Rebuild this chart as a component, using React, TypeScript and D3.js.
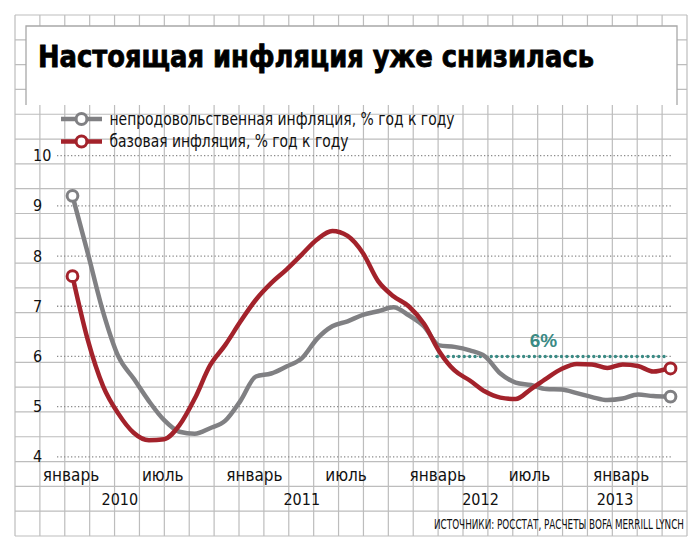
import * as d3 from "d3"

// месяцы с января 2010 (0) по апрель 2013 (39)
const monthIdx = d3.range(0, 40)

const nonFood = [
    9.2, 8.06, 6.89, 6.0, 5.56, 5.11, 4.73, 4.5, 4.46, 4.57, 4.72, 5.12,
    5.6, 5.66, 5.8, 5.96, 6.35, 6.6, 6.7, 6.83, 6.9, 6.98, 6.82, 6.6,
    6.22, 6.19, 6.12, 6.0, 5.66, 5.48, 5.43, 5.35, 5.34, 5.27, 5.19, 5.13,
    5.16, 5.24, 5.21, 5.2,
]

const core = [
    7.6, 6.33, 5.41, 4.86, 4.48, 4.33, 4.35, 4.63, 5.16, 5.82, 6.23, 6.7,
    7.13, 7.46, 7.73, 8.03, 8.33, 8.5, 8.4, 8.06, 7.5, 7.2, 7.0, 6.65,
    6.1, 5.72, 5.52, 5.3, 5.18, 5.15, 5.35, 5.56, 5.75, 5.85, 5.84, 5.77,
    5.84, 5.81, 5.7, 5.76,
]

const yTicks = [4, 5, 6, 7, 8, 9, 10]
const monthTicks = [
    { m: 0, label: "январь" },
    { m: 6, label: "июль" },
    { m: 12, label: "январь" },
    { m: 18, label: "июль" },
    { m: 24, label: "январь" },
    { m: 30, label: "июль" },
    { m: 36, label: "январь" },
]
const yearTicks = [
    { m: 3.1, label: "2010" },
    { m: 15.0, label: "2011" },
    { m: 26.7, label: "2012" },
    { m: 35.5, label: "2013" },
]
const targetLevel = 6
const targetStart = 24
const targetEnd = 39

const title = "Настоящая инфляция уже снизилась"
const legendNames = ["непродовольственная инфляция, % год к году", "базовая инфляция, % год к году"]
const source = "ИСТОЧНИКИ: РОССТАТ, РАСЧЕТЫ BOFA MERRILL LYNCH"

const GRAY = "#808083"
const RED = "#a3222b"
const TEAL = "#3a8a84"
const GRID = "#bdbdbd"
const NARROW = "'Liberation Sans Narrow', 'DejaVu Sans Condensed', 'Roboto Condensed', 'Liberation Sans', sans-serif"

export default function App() {
    const width = 695
    const height = 549

    const x = d3.scaleLinear().domain([0, 39]).range([72.5, 668.5])
    const y = d3.scaleLinear().domain([4, 10]).range([456.8, 155.7])

    const line = d3
        .line<number>()
        .x((_, i) => x(monthIdx[i]))
        .y((d) => y(d))
        .curve(d3.curveMonotoneX)

    // сетка "тетрадный лист"
    const gx0 = 15, gx1 = 687, gy0 = 15, gy1 = 536
    const cols = 27, rows = 21
    const vLines = d3.range(0, cols + 1).map((k) => gx0 + (k * (gx1 - gx0)) / cols)
    const hLines = d3.range(0, rows + 1).map((k) => gy0 + (k * (gy1 - gy0)) / rows)

    const series = [
        { values: nonFood, color: GRAY },
        { values: core, color: RED },
    ]

    return (
        <svg
            width={width}
            height={height}
            style={{ position: "absolute", left: 0, top: 0, background: "#fff" }}
        >
            <g>
                {vLines.map((vx, i) => (
                    <line key={"v" + i} x1={vx} x2={vx} y1={gy0} y2={gy1} stroke={GRID} strokeWidth={1.2} />
                ))}
                {hLines.map((hy, i) => (
                    <line key={"h" + i} x1={gx0} x2={gx1} y1={hy} y2={hy} stroke={GRID} strokeWidth={1.2} />
                ))}
            </g>

            {/* title box */}
            <rect x={26} y={26} width={651} height={79} fill="#fff" />
            <path d="M26,105 V26 H677 V105" fill="none" stroke="#a8a8a8" strokeWidth={1.3} />
            <text
                x={38}
                y={67}
                fontFamily={NARROW}
                fontWeight="bold"
                fontSize={31}
                textLength={556}
                lengthAdjust="spacingAndGlyphs"
                fill="#000"
                stroke="#000"
                strokeWidth={0.8}
            >
                {title}
            </text>

            {/* legend */}
            {series.map((s, i) => {
                const ly = 119 + i * 22.5
                return (
                    <g key={"lg" + i}>
                        <line x1={61} x2={102} y1={ly} y2={ly} stroke={s.color} strokeWidth={4.5} />
                        <circle cx={81.5} cy={ly} r={5.4} fill="#fff" stroke={s.color} strokeWidth={3} />
                        <text
                            x={109.5}
                            y={ly + 5.5}
                            fontFamily={NARROW}
                            fontSize={18}
                            textLength={i === 0 ? 345 : 239}
                            lengthAdjust="spacingAndGlyphs"
                            fill="#111"
                        >
                            {legendNames[i]}
                        </text>
                    </g>
                )
            })}

            {/* y axis */}
            {yTicks.map((t) => (
                <g key={"y" + t}>
                    <line
                        x1={57}
                        x2={671}
                        y1={y(t)}
                        y2={y(t)}
                        stroke="#8a8a8a"
                        strokeWidth={1.3}
                        strokeDasharray="1.3 2.2"
                    />
                    <text x={33} y={y(t) + 5.5} fontFamily={NARROW} fontSize={16} fill="#111">
                        {t}
                    </text>
                </g>
            ))}

            {/* x axis */}
            {monthTicks.map((t, i) => (
                <text
                    key={"m" + i}
                    x={x(t.m) - 1.5}
                    y={480.5}
                    textAnchor="middle"
                    fontFamily={NARROW}
                    fontSize={17}
                    fill="#111"
                >
                    {t.label}
                </text>
            ))}
            {yearTicks.map((t) => (
                <text
                    key={"yr" + t.label}
                    x={x(t.m)}
                    y={505}
                    textAnchor="middle"
                    fontFamily={NARROW}
                    fontSize={16}
                    fill="#111"
                >
                    {t.label}
                </text>
            ))}

            {/* 6% target */}
            <line
                x1={x(targetStart) - 2}
                x2={x(targetEnd) - 2}
                y1={y(targetLevel)}
                y2={y(targetLevel)}
                stroke={TEAL}
                strokeWidth={3.4}
                strokeLinecap="round"
                strokeDasharray="0 5.4"
            />
            <text
                x={543.5}
                y={347}
                textAnchor="middle"
                fontFamily="'Liberation Sans', Arial, sans-serif"
                fontWeight="bold"
                fontSize={19}
                fill={TEAL}
            >
                {targetLevel}%
            </text>

            {/* series */}
            {series.map((s, i) => (
                <g key={"s" + i}>
                    <path d={line(s.values) ?? ""} fill="none" stroke={s.color} strokeWidth={4.5} strokeLinejoin="round" />
                    <circle cx={x(0)} cy={y(s.values[0])} r={5.4} fill="#fff" stroke={s.color} strokeWidth={3} />
                    <circle
                        cx={x(39) + 2}
                        cy={y(s.values[s.values.length - 1])}
                        r={5.4}
                        fill="#fff"
                        stroke={s.color}
                        strokeWidth={3}
                    />
                </g>
            ))}

            <text
                x={684}
                y={529}
                textAnchor="end"
                fontFamily={NARROW}
                fontSize={13.5}
                textLength={250}
                lengthAdjust="spacingAndGlyphs"
                fill="#111"
            >
                {source}
            </text>
        </svg>
    )
}
